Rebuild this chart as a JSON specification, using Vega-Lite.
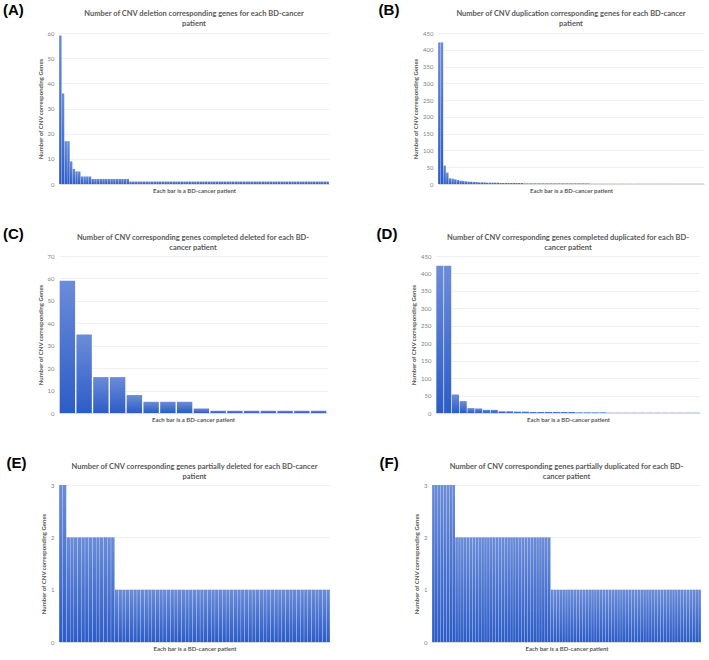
{
  "$schema": "https://vega.github.io/schema/vega-lite/v6.json",
  "padding": {"left": 3, "top": 2, "right": 4, "bottom": 2},
  "background": "white",
  "spacing": 33,
  "config": {
    "font": "Lato",
    "view": {"stroke": null},
    "bar": {"color": {"gradient": "linear", "x1": 0, "y1": 0, "x2": 0, "y2": 1, "stops": [{"offset": 0, "color": "#6b8cd8"}, {"offset": 1, "color": "#2c5cc7"}]}},
    "axis": {"labelFont": "Lato", "titleFont": "Lato", "labelColor": "#7f7f7f", "titleColor": "#595959", "labelFontSize": 6, "titleFontSize": 6, "titleFontWeight": "bold", "gridColor": "#e6e6e6", "gridWidth": 0.6},
    "axisX": {"labels": false, "ticks": false, "grid": false, "domainColor": "#d9d9d9", "titlePadding": 3},
    "axisY": {"domain": false, "ticks": false, "labelPadding": 5, "titlePadding": 4},
    "title": {"font": "Lato", "fontSize": 7.5, "fontWeight": "bold", "color": "#595959", "lineHeight": 10, "offset": 2}
  },
  "datasets": {
    "deletion": [
      {"patient":1,"genes":59},{"patient":2,"genes":36},{"patient":3,"genes":17},{"patient":4,"genes":17},{"patient":5,"genes":9},{"patient":6,"genes":6},{"patient":7,"genes":5},{"patient":8,"genes":5},{"patient":9,"genes":3},{"patient":10,"genes":3},
      {"patient":11,"genes":3},{"patient":12,"genes":3},{"patient":13,"genes":2},{"patient":14,"genes":2},{"patient":15,"genes":2},{"patient":16,"genes":2},{"patient":17,"genes":2},{"patient":18,"genes":2},{"patient":19,"genes":2},{"patient":20,"genes":2},
      {"patient":21,"genes":2},{"patient":22,"genes":2},{"patient":23,"genes":2},{"patient":24,"genes":2},{"patient":25,"genes":2},{"patient":26,"genes":2},{"patient":27,"genes":1},{"patient":28,"genes":1},{"patient":29,"genes":1},{"patient":30,"genes":1},
      {"patient":31,"genes":1},{"patient":32,"genes":1},{"patient":33,"genes":1},{"patient":34,"genes":1},{"patient":35,"genes":1},{"patient":36,"genes":1},{"patient":37,"genes":1},{"patient":38,"genes":1},{"patient":39,"genes":1},{"patient":40,"genes":1},
      {"patient":41,"genes":1},{"patient":42,"genes":1},{"patient":43,"genes":1},{"patient":44,"genes":1},{"patient":45,"genes":1},{"patient":46,"genes":1},{"patient":47,"genes":1},{"patient":48,"genes":1},{"patient":49,"genes":1},{"patient":50,"genes":1},
      {"patient":51,"genes":1},{"patient":52,"genes":1},{"patient":53,"genes":1},{"patient":54,"genes":1},{"patient":55,"genes":1},{"patient":56,"genes":1},{"patient":57,"genes":1},{"patient":58,"genes":1},{"patient":59,"genes":1},{"patient":60,"genes":1},
      {"patient":61,"genes":1},{"patient":62,"genes":1},{"patient":63,"genes":1},{"patient":64,"genes":1},{"patient":65,"genes":1},{"patient":66,"genes":1},{"patient":67,"genes":1},{"patient":68,"genes":1},{"patient":69,"genes":1},{"patient":70,"genes":1},
      {"patient":71,"genes":1},{"patient":72,"genes":1},{"patient":73,"genes":1},{"patient":74,"genes":1},{"patient":75,"genes":1},{"patient":76,"genes":1},{"patient":77,"genes":1},{"patient":78,"genes":1},{"patient":79,"genes":1},{"patient":80,"genes":1},
      {"patient":81,"genes":1},{"patient":82,"genes":1},{"patient":83,"genes":1},{"patient":84,"genes":1},{"patient":85,"genes":1},{"patient":86,"genes":1},{"patient":87,"genes":1},{"patient":88,"genes":1},{"patient":89,"genes":1},{"patient":90,"genes":1},
      {"patient":91,"genes":1},{"patient":92,"genes":1},{"patient":93,"genes":1},{"patient":94,"genes":1},{"patient":95,"genes":1},{"patient":96,"genes":1},{"patient":97,"genes":1},{"patient":98,"genes":1},{"patient":99,"genes":1},{"patient":100,"genes":1}
    ],
    "duplication": [
      {"patient":1,"genes":422},{"patient":2,"genes":422},{"patient":3,"genes":55},{"patient":4,"genes":34},{"patient":5,"genes":17},{"patient":6,"genes":16},{"patient":7,"genes":14},{"patient":8,"genes":12},{"patient":9,"genes":10},{"patient":10,"genes":9},
      {"patient":11,"genes":8},{"patient":12,"genes":7},{"patient":13,"genes":7},{"patient":14,"genes":6},{"patient":15,"genes":6},{"patient":16,"genes":5},{"patient":17,"genes":5},{"patient":18,"genes":5},{"patient":19,"genes":4},{"patient":20,"genes":4},
      {"patient":21,"genes":4},{"patient":22,"genes":4},{"patient":23,"genes":4},{"patient":24,"genes":3},{"patient":25,"genes":3},{"patient":26,"genes":3},{"patient":27,"genes":3},{"patient":28,"genes":3},{"patient":29,"genes":3},{"patient":30,"genes":3},
      {"patient":31,"genes":3},{"patient":32,"genes":3},{"patient":33,"genes":2},{"patient":34,"genes":2},{"patient":35,"genes":2},{"patient":36,"genes":2},{"patient":37,"genes":2},{"patient":38,"genes":2},{"patient":39,"genes":2},{"patient":40,"genes":2},
      {"patient":41,"genes":2},{"patient":42,"genes":2},{"patient":43,"genes":2},{"patient":44,"genes":2},{"patient":45,"genes":2},{"patient":46,"genes":2},{"patient":47,"genes":2},{"patient":48,"genes":2},{"patient":49,"genes":2},{"patient":50,"genes":2},
      {"patient":51,"genes":2},{"patient":52,"genes":2},{"patient":53,"genes":2},{"patient":54,"genes":2},{"patient":55,"genes":2},{"patient":56,"genes":2},{"patient":57,"genes":2},{"patient":58,"genes":1},{"patient":59,"genes":1},{"patient":60,"genes":1},
      {"patient":61,"genes":1},{"patient":62,"genes":1},{"patient":63,"genes":1},{"patient":64,"genes":1},{"patient":65,"genes":1},{"patient":66,"genes":1},{"patient":67,"genes":1},{"patient":68,"genes":1},{"patient":69,"genes":1},{"patient":70,"genes":1},
      {"patient":71,"genes":1},{"patient":72,"genes":1},{"patient":73,"genes":1},{"patient":74,"genes":1},{"patient":75,"genes":1},{"patient":76,"genes":1},{"patient":77,"genes":1},{"patient":78,"genes":1},{"patient":79,"genes":1},{"patient":80,"genes":1},
      {"patient":81,"genes":1},{"patient":82,"genes":1},{"patient":83,"genes":1},{"patient":84,"genes":1},{"patient":85,"genes":1},{"patient":86,"genes":1},{"patient":87,"genes":1},{"patient":88,"genes":1},{"patient":89,"genes":1},{"patient":90,"genes":1},
      {"patient":91,"genes":1},{"patient":92,"genes":1},{"patient":93,"genes":1},{"patient":94,"genes":1},{"patient":95,"genes":1},{"patient":96,"genes":1},{"patient":97,"genes":1},{"patient":98,"genes":1},{"patient":99,"genes":1},{"patient":100,"genes":1}
    ],
    "completeDeleted": [
      {"patient":1,"genes":59},{"patient":2,"genes":35},{"patient":3,"genes":16},{"patient":4,"genes":16},{"patient":5,"genes":8},{"patient":6,"genes":5},{"patient":7,"genes":5},{"patient":8,"genes":5},
      {"patient":9,"genes":2},{"patient":10,"genes":1},{"patient":11,"genes":1},{"patient":12,"genes":1},{"patient":13,"genes":1},{"patient":14,"genes":1},{"patient":15,"genes":1},{"patient":16,"genes":1}
    ],
    "completeDuplicated": [
      {"patient":1,"genes":422},{"patient":2,"genes":422},{"patient":3,"genes":53},{"patient":4,"genes":34},{"patient":5,"genes":14},{"patient":6,"genes":13},{"patient":7,"genes":9},{"patient":8,"genes":9},{"patient":9,"genes":5},{"patient":10,"genes":5},
      {"patient":11,"genes":4},{"patient":12,"genes":4},{"patient":13,"genes":3},{"patient":14,"genes":3},{"patient":15,"genes":3},{"patient":16,"genes":3},{"patient":17,"genes":3},{"patient":18,"genes":3},{"patient":19,"genes":2},{"patient":20,"genes":2},
      {"patient":21,"genes":2},{"patient":22,"genes":2},{"patient":23,"genes":1},{"patient":24,"genes":1},{"patient":25,"genes":1},{"patient":26,"genes":1},{"patient":27,"genes":1},{"patient":28,"genes":1},{"patient":29,"genes":1},{"patient":30,"genes":1},
      {"patient":31,"genes":1},{"patient":32,"genes":1},{"patient":33,"genes":1},{"patient":34,"genes":1}
    ],
    "partialDeleted": [
      {"patient":1,"genes":3},{"patient":2,"genes":3},{"patient":3,"genes":2},{"patient":4,"genes":2},{"patient":5,"genes":2},{"patient":6,"genes":2},{"patient":7,"genes":2},{"patient":8,"genes":2},{"patient":9,"genes":2},{"patient":10,"genes":2},
      {"patient":11,"genes":2},{"patient":12,"genes":2},{"patient":13,"genes":2},{"patient":14,"genes":2},{"patient":15,"genes":2},{"patient":16,"genes":1},{"patient":17,"genes":1},{"patient":18,"genes":1},{"patient":19,"genes":1},{"patient":20,"genes":1},
      {"patient":21,"genes":1},{"patient":22,"genes":1},{"patient":23,"genes":1},{"patient":24,"genes":1},{"patient":25,"genes":1},{"patient":26,"genes":1},{"patient":27,"genes":1},{"patient":28,"genes":1},{"patient":29,"genes":1},{"patient":30,"genes":1},
      {"patient":31,"genes":1},{"patient":32,"genes":1},{"patient":33,"genes":1},{"patient":34,"genes":1},{"patient":35,"genes":1},{"patient":36,"genes":1},{"patient":37,"genes":1},{"patient":38,"genes":1},{"patient":39,"genes":1},{"patient":40,"genes":1},
      {"patient":41,"genes":1},{"patient":42,"genes":1},{"patient":43,"genes":1},{"patient":44,"genes":1},{"patient":45,"genes":1},{"patient":46,"genes":1},{"patient":47,"genes":1},{"patient":48,"genes":1},{"patient":49,"genes":1},{"patient":50,"genes":1},
      {"patient":51,"genes":1},{"patient":52,"genes":1},{"patient":53,"genes":1},{"patient":54,"genes":1},{"patient":55,"genes":1},{"patient":56,"genes":1},{"patient":57,"genes":1},{"patient":58,"genes":1},{"patient":59,"genes":1},{"patient":60,"genes":1},
      {"patient":61,"genes":1},{"patient":62,"genes":1},{"patient":63,"genes":1},{"patient":64,"genes":1},{"patient":65,"genes":1},{"patient":66,"genes":1},{"patient":67,"genes":1},{"patient":68,"genes":1},{"patient":69,"genes":1},{"patient":70,"genes":1},
      {"patient":71,"genes":1},{"patient":72,"genes":1},{"patient":73,"genes":1}
    ],
    "partialDuplicated": [
      {"patient":1,"genes":3},{"patient":2,"genes":3},{"patient":3,"genes":3},{"patient":4,"genes":3},{"patient":5,"genes":3},{"patient":6,"genes":3},{"patient":7,"genes":3},{"patient":8,"genes":3},{"patient":9,"genes":2},{"patient":10,"genes":2},
      {"patient":11,"genes":2},{"patient":12,"genes":2},{"patient":13,"genes":2},{"patient":14,"genes":2},{"patient":15,"genes":2},{"patient":16,"genes":2},{"patient":17,"genes":2},{"patient":18,"genes":2},{"patient":19,"genes":2},{"patient":20,"genes":2},
      {"patient":21,"genes":2},{"patient":22,"genes":2},{"patient":23,"genes":2},{"patient":24,"genes":2},{"patient":25,"genes":2},{"patient":26,"genes":2},{"patient":27,"genes":2},{"patient":28,"genes":2},{"patient":29,"genes":2},{"patient":30,"genes":2},
      {"patient":31,"genes":2},{"patient":32,"genes":2},{"patient":33,"genes":2},{"patient":34,"genes":2},{"patient":35,"genes":2},{"patient":36,"genes":2},{"patient":37,"genes":2},{"patient":38,"genes":2},{"patient":39,"genes":2},{"patient":40,"genes":2},
      {"patient":41,"genes":2},{"patient":42,"genes":1},{"patient":43,"genes":1},{"patient":44,"genes":1},{"patient":45,"genes":1},{"patient":46,"genes":1},{"patient":47,"genes":1},{"patient":48,"genes":1},{"patient":49,"genes":1},{"patient":50,"genes":1},
      {"patient":51,"genes":1},{"patient":52,"genes":1},{"patient":53,"genes":1},{"patient":54,"genes":1},{"patient":55,"genes":1},{"patient":56,"genes":1},{"patient":57,"genes":1},{"patient":58,"genes":1},{"patient":59,"genes":1},{"patient":60,"genes":1},
      {"patient":61,"genes":1},{"patient":62,"genes":1},{"patient":63,"genes":1},{"patient":64,"genes":1},{"patient":65,"genes":1},{"patient":66,"genes":1},{"patient":67,"genes":1},{"patient":68,"genes":1},{"patient":69,"genes":1},{"patient":70,"genes":1},
      {"patient":71,"genes":1},{"patient":72,"genes":1},{"patient":73,"genes":1},{"patient":74,"genes":1},{"patient":75,"genes":1},{"patient":76,"genes":1},{"patient":77,"genes":1},{"patient":78,"genes":1},{"patient":79,"genes":1},{"patient":80,"genes":1},
      {"patient":81,"genes":1},{"patient":82,"genes":1},{"patient":83,"genes":1},{"patient":84,"genes":1},{"patient":85,"genes":1},{"patient":86,"genes":1},{"patient":87,"genes":1},{"patient":88,"genes":1},{"patient":89,"genes":1},{"patient":90,"genes":1},
      {"patient":91,"genes":1},{"patient":92,"genes":1},{"patient":93,"genes":1}
    ]
  },
  "vconcat": [
    {
      "spacing": 49,
      "hconcat": [
        {
          "title": {"text": "(A)", "anchor": "start", "font": "Liberation Sans", "fontSize": 15, "fontWeight": "bold", "color": "#000000", "offset": -8, "dx": -34},
          "vconcat": [{
            "title": {"text": ["Number of CNV deletion corresponding genes for each BD-cancer", "patient"], "offset": 3},
            "width": 270, "height": 151,
            "data": {"name": "deletion"},
            "mark": {"type": "bar"},
            "encoding": {
              "x": {"field": "patient", "type": "ordinal", "scale": {"paddingInner": 0.1, "paddingOuter": 0.05}, "axis": {"title": "Each bar is a BD-cancer patient"}},
              "y": {"field": "genes", "type": "quantitative", "scale": {"domain": [0, 60]}, "axis": {"values": [0, 10, 20, 30, 40, 50, 60], "title": "Number of CNV corresponding Genes"}}
            }
          }]
        },
        {
          "title": {"text": "(B)", "anchor": "start", "font": "Liberation Sans", "fontSize": 15, "fontWeight": "bold", "color": "#000000", "offset": -8, "dx": -34},
          "vconcat": [{
            "title": {"text": ["Number of CNV duplication corresponding genes for each BD-cancer", "patient"], "offset": 3},
            "width": 266, "height": 151,
            "data": {"name": "duplication"},
            "mark": {"type": "bar"},
            "encoding": {
              "x": {"field": "patient", "type": "ordinal", "scale": {"paddingInner": 0.1, "paddingOuter": 0.05}, "axis": {"title": "Each bar is a BD-cancer patient"}},
              "y": {"field": "genes", "type": "quantitative", "scale": {"domain": [0, 450]}, "axis": {"values": [0, 50, 100, 150, 200, 250, 300, 350, 400, 450], "title": "Number of CNV corresponding Genes"}}
            }
          }]
        }
      ]
    },
    {
      "spacing": 49,
      "hconcat": [
        {
          "title": {"text": "(C)", "anchor": "start", "font": "Liberation Sans", "fontSize": 15, "fontWeight": "bold", "color": "#000000", "offset": -8, "dx": -34},
          "vconcat": [{
            "title": {"text": ["Number of CNV corresponding genes completed deleted for each BD-", "cancer patient"]},
            "width": 268, "height": 157,
            "data": {"name": "completeDeleted"},
            "mark": {"type": "bar"},
            "encoding": {
              "x": {"field": "patient", "type": "ordinal", "scale": {"paddingInner": 0.08, "paddingOuter": 0.04}, "axis": {"title": "Each bar is a BD-cancer patient"}},
              "y": {"field": "genes", "type": "quantitative", "scale": {"domain": [0, 70]}, "axis": {"values": [0, 10, 20, 30, 40, 50, 60, 70], "title": "Number of CNV corresponding Genes"}}
            }
          }]
        },
        {
          "title": {"text": "(D)", "anchor": "start", "font": "Liberation Sans", "fontSize": 15, "fontWeight": "bold", "color": "#000000", "offset": -8, "dx": -34},
          "vconcat": [{
            "title": {"text": ["Number of CNV corresponding genes completed duplicated for each BD-", "cancer patient"]},
            "width": 264, "height": 157,
            "data": {"name": "completeDuplicated"},
            "mark": {"type": "bar"},
            "encoding": {
              "x": {"field": "patient", "type": "ordinal", "scale": {"paddingInner": 0.08, "paddingOuter": 0.04}, "axis": {"title": "Each bar is a BD-cancer patient"}},
              "y": {"field": "genes", "type": "quantitative", "scale": {"domain": [0, 450]}, "axis": {"values": [0, 50, 100, 150, 200, 250, 300, 350, 400, 450], "title": "Number of CNV corresponding Genes"}}
            }
          }]
        }
      ]
    },
    {
      "spacing": 49,
      "hconcat": [
        {
          "title": {"text": "(E)", "anchor": "start", "font": "Liberation Sans", "fontSize": 15, "fontWeight": "bold", "color": "#000000", "offset": -8, "dx": -34},
          "vconcat": [{
            "title": {"text": ["Number of CNV corresponding genes partially deleted for each BD-cancer", "patient"]},
            "width": 271, "height": 157,
            "data": {"name": "partialDeleted"},
            "mark": {"type": "bar"},
            "encoding": {
              "x": {"field": "patient", "type": "ordinal", "scale": {"paddingInner": 0.08, "paddingOuter": 0.04}, "axis": {"title": "Each bar is a BD-cancer patient"}},
              "y": {"field": "genes", "type": "quantitative", "scale": {"domain": [0, 3]}, "axis": {"values": [0, 1, 2, 3], "title": "Number of CNV corresponding Genes"}}
            }
          }]
        },
        {
          "title": {"text": "(F)", "anchor": "start", "font": "Liberation Sans", "fontSize": 15, "fontWeight": "bold", "color": "#000000", "offset": -8, "dx": -34},
          "vconcat": [{
            "title": {"text": ["Number of CNV corresponding genes partially duplicated for each BD-", "cancer patient"]},
            "width": 269, "height": 157,
            "data": {"name": "partialDuplicated"},
            "mark": {"type": "bar"},
            "encoding": {
              "x": {"field": "patient", "type": "ordinal", "scale": {"paddingInner": 0.08, "paddingOuter": 0.04}, "axis": {"title": "Each bar is a BD-cancer patient"}},
              "y": {"field": "genes", "type": "quantitative", "scale": {"domain": [0, 3]}, "axis": {"values": [0, 1, 2, 3], "title": "Number of CNV corresponding Genes"}}
            }
          }]
        }
      ]
    }
  ]
}
